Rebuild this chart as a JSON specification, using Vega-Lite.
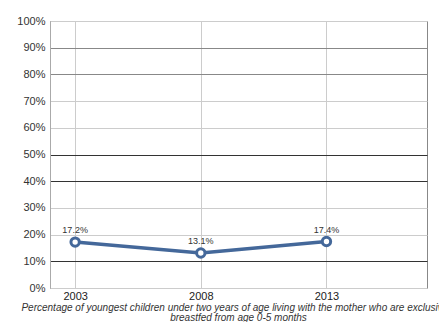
{
  "$schema": "https://vega.github.io/schema/vega-lite/v6.json",
  "autosize": "none",
  "width": 377,
  "height": 267,
  "padding": {"left": 50, "top": 21, "right": 12, "bottom": 34},
  "background": "white",
  "config": {
    "font": "Liberation Sans",
    "view": {"stroke": "#888", "strokeWidth": 1}
  },
  "title": {
    "text": ["Percentage of youngest children under two years of age living with the mother who are exclusively", "breastfed from age 0-5 months"],
    "orient": "bottom",
    "anchor": "middle",
    "fontSize": 10,
    "fontStyle": "italic",
    "fontWeight": "normal",
    "color": "#333",
    "offset": 2,
    "lineHeight": 10
  },
  "data": {
    "values": [
      {"year": 2003, "value": 0.172},
      {"year": 2008, "value": 0.131},
      {"year": 2013, "value": 0.174}
    ]
  },
  "encoding": {
    "x": {
      "field": "year",
      "type": "quantitative",
      "scale": {"domain": [2002, 2017], "nice": false, "zero": false},
      "axis": {
        "title": null,
        "values": [2003, 2008, 2013],
        "format": "d",
        "labelFontSize": 11,
        "labelColor": "#222",
        "ticks": false,
        "labelPadding": 2,
        "domain": false,
        "gridColor": "#ccc",
        "gridWidth": 1
      }
    },
    "y": {
      "field": "value",
      "type": "quantitative",
      "scale": {"domain": [0, 1], "nice": false},
      "axis": {
        "title": null,
        "format": "%",
        "values": [0, 0.1, 0.2, 0.3, 0.4, 0.5, 0.6, 0.7, 0.8, 0.9, 1],
        "labelFontSize": 11,
        "labelColor": "#333",
        "ticks": false,
        "labelPadding": 5,
        "domainColor": "#aaa",
        "gridColor": {
          "condition": [
            {"test": "datum.value == 0.1 || datum.value == 0.4 || datum.value == 0.5", "value": "#333"},
            {"test": "datum.value == 0.8 || datum.value == 0.9", "value": "#888"}
          ],
          "value": "#ccc"
        },
        "gridWidth": 1
      }
    }
  },
  "layer": [
    {
      "mark": {"type": "line", "color": "#44689a", "strokeWidth": 3.5}
    },
    {
      "mark": {"type": "point", "filled": true, "fill": "white", "stroke": "#44689a", "strokeWidth": 3, "size": 70, "opacity": 1}
    },
    {
      "mark": {"type": "text", "dy": -12, "fontSize": 9, "color": "#333"},
      "encoding": {
        "text": {"field": "value", "type": "quantitative", "format": ".1%"}
      }
    }
  ]
}
